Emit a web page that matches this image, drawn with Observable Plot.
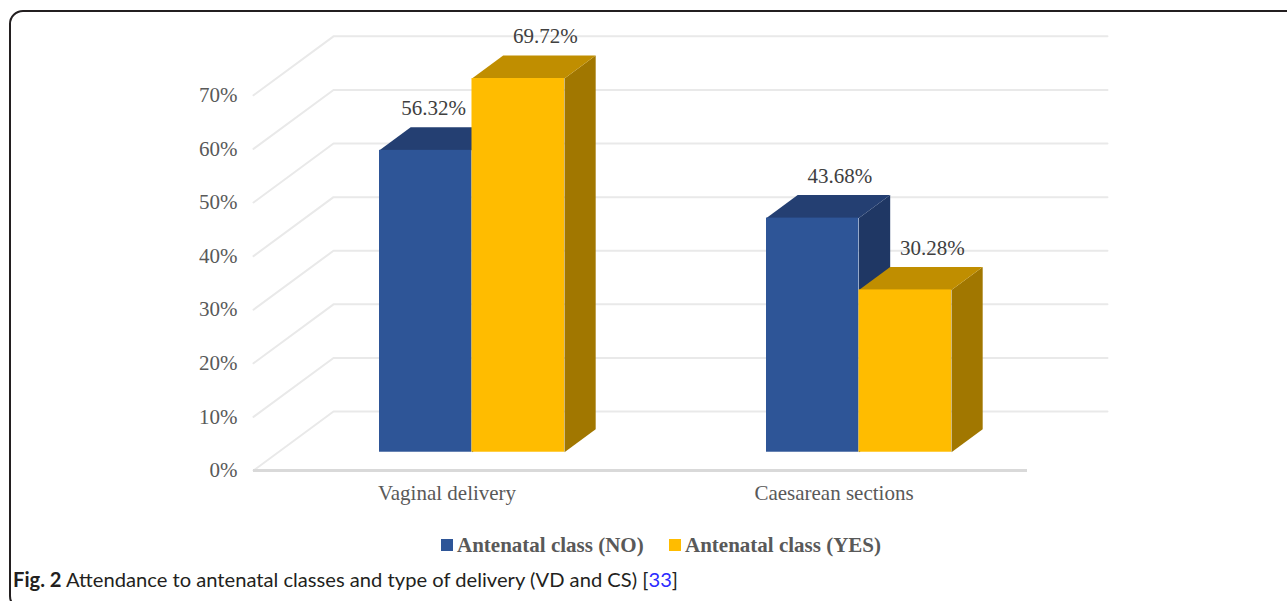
<!DOCTYPE html>
<html>
<head>
<meta charset="utf-8">
<script src="https://cdn.jsdelivr.net/npm/d3@7"></script>
<script src="https://cdn.jsdelivr.net/npm/@observablehq/plot@0.6"></script>
<style>
  html, body { margin: 0; padding: 0; background: #fff; }
  #wrap { position: relative; width: 1287px; height: 601px; overflow: hidden; }
  #frame { position: absolute; left: 9px; top: 10px; width: 1320px; height: 600px;
           border: 2px solid #231f20; border-radius: 14px; box-sizing: border-box; }
  #chart { position: absolute; left: 0; top: 0; }
  #chart svg text { font-family: "Liberation Serif", "Times New Roman", serif !important; }
  .leg { position: absolute; top: 531px; height: 28px; display: flex; align-items: center;
         font: bold 21px "Liberation Serif", "Times New Roman", serif; color: #595959; white-space: nowrap; }
  .sw { display: inline-block; width: 12px; height: 12px; margin-right: 4px; }
  #caption { position: absolute; left: 13px; top: 567px; font: 20px "Lato", "Open Sans", sans-serif;
             color: #231f20; white-space: nowrap; transform-origin: 0 50%; line-height: 24px; }
  #caption b { font-weight: 700; }
  #caption .ref { color: #2b2bff; }
</style>
</head>
<body>
<div id="wrap">
  <div id="frame"></div>
  <div id="chart"></div>
  <div id="legend"></div>
  <div id="caption"><b>Fig. 2</b> Attendance to antenatal classes and type of delivery (VD and CS) [<span class="ref">33</span>]</div>
</div>
<script>
// ---- data ----
const categories = ["Vaginal delivery", "Caesarean sections"];
const seriesNames = ["Antenatal class (NO)", "Antenatal class (YES)"];
const noValues = [56.32, 43.68];
const yesValues = [69.72, 30.28];
const yTicks = [0, 10, 20, 30, 40, 50, 60, 70];

// ---- styles ----
const serif = "Liberation Serif, Times New Roman, serif";
const frontColors = ["#2E5597", "#FFBC00"];
const topColors = ["#243F72", "#C08E00"];
const sideColors = ["#1F3764", "#A17700"];

// ---- 3D geometry (data units) ----
const DX = 0.2067, DY = 11.0;     // full floor depth offset
const F0 = 0.31, F1 = 0.70;       // bar depth span (fraction of floor depth)
const G0 = 0.2615, BW = 0.239;    // group start within band, bar width
const ddx = (F1 - F0) * DX, ddy = (F1 - F0) * DY;

const seriesValues = [noValues, yesValues];
const bars = [];
seriesValues.forEach((vals, s) => vals.forEach((v, i) => {
  const x1 = i + G0 + s * BW + F0 * DX;
  const x2 = x1 + BW;
  const y1 = F0 * DY;
  const y2 = v + F0 * DY;
  bars.push({s, i, v, x1, x2, y1, y2});
}));

function polys(kind, s) {
  const pts = [];
  bars.filter(b => b.s === s).forEach(b => {
    const id = kind + b.s + "-" + b.i;
    let p;
    if (kind === "top") p = [[b.x1, b.y2], [b.x2, b.y2], [b.x2 + ddx, b.y2 + ddy], [b.x1 + ddx, b.y2 + ddy]];
    else p = [[b.x2, b.y1], [b.x2, b.y2], [b.x2 + ddx, b.y2 + ddy], [b.x2 + ddx, b.y1 + ddy]];
    p.forEach(([x, y]) => pts.push({id, x, y}));
  });
  return pts;
}

const grid = [];
yTicks.forEach(t => {
  grid.push({t, x: 0, y: t});
  grid.push({t, x: DX, y: t + DY});
  grid.push({t, x: 2 + DX, y: t + DY});
});

const marks = [
  Plot.line(grid, {x: "x", y: "y", z: "t", stroke: "#e9e9e9", strokeWidth: 2}),
  Plot.ruleY([0], {stroke: "#d9d9d9", strokeWidth: 3})
];
[0, 1].forEach(s => {
  marks.push(Plot.line(polys("side", s), {x: "x", y: "y", z: "id", fill: sideColors[s], stroke: "none", curve: "linear-closed"}));
  marks.push(Plot.line(polys("top", s), {x: "x", y: "y", z: "id", fill: topColors[s], stroke: "none", curve: "linear-closed"}));
  marks.push(Plot.rect(bars.filter(b => b.s === s), {x1: "x1", x2: "x2", y1: "y1", y2: "y2", fill: frontColors[s]}));
});

function labelX(b) {
  const nb = bars.find(o => o.i === b.i && o.s === b.s + 1);
  const shift = nb && nb.v > b.v ? 0.05 : 0;
  return (b.x1 + b.x2) / 2 + ddx - shift;
}
marks.push(Plot.text(bars, {
  x: labelX, y: b => b.y2 + ddy, text: b => b.v.toFixed(2) + "%",
  dy: -19, dx: -4, lineAnchor: "middle", fontSize: 21, fontFamily: serif, fill: "#404040"
}));
marks.push(Plot.axisY({ticks: yTicks, tickFormat: d => d + "%", tickSize: 0, tickPadding: 16, fontSize: 21, fontFamily: serif}));
marks.push(Plot.axisX({ticks: [0.5, 1.5], tickFormat: d => categories[Math.floor(d)], tickSize: 0, tickPadding: 15, fontSize: 21, fontFamily: serif}));

const H = 520;
const chart = Plot.plot({
  width: 1287,
  height: H,
  marginLeft: 253,
  marginRight: 260,
  marginTop: 94.8,
  marginBottom: H - 470,
  x: {domain: [0, 2]},
  y: {domain: [0, 70]},
  style: {fontFamily: serif, fontSize: "21px", color: "#595959", background: "transparent", overflow: "visible"},
  marks
});
document.getElementById("chart").appendChild(chart);

// ---- legend ----
const legend = document.getElementById("legend");
const legLeft = [441, 669];
seriesNames.forEach((name, s) => {
  const item = document.createElement("div");
  item.className = "leg";
  item.style.left = legLeft[s] + "px";
  const sw = document.createElement("span");
  sw.className = "sw";
  sw.style.background = frontColors[s];
  item.appendChild(sw);
  item.appendChild(document.createTextNode(name));
  legend.appendChild(item);
});

// ---- caption width fit ----
const cap = document.getElementById("caption");
const w = cap.getBoundingClientRect().width;
cap.style.transform = `scaleX(${665 / w})`;
</script>
</body>
</html>
